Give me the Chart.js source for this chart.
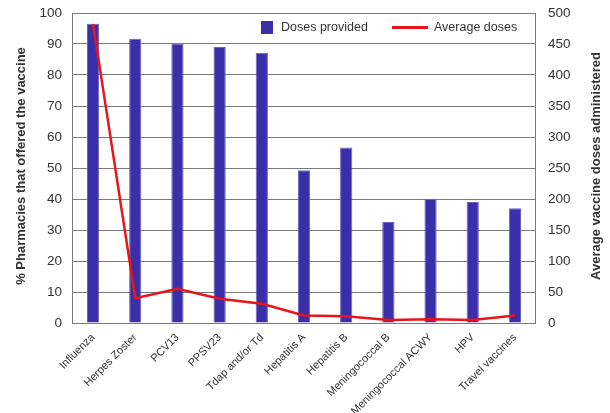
<!DOCTYPE html>
<html>
<head>
<meta charset="utf-8">
<script src="https://cdn.jsdelivr.net/npm/chart.js@4.4.1/dist/chart.umd.min.js"></script>
<style>
  html, body { margin: 0; padding: 0; background: #fff; }
  #wrap { width: 610px; height: 413px; position: relative; }
</style>
</head>
<body>
<div id="wrap"><canvas id="c" width="610" height="413"></canvas></div>
<script>
// Vaccines offered by pharmacies
const categories = [
  "Influenza", "Herpes Zoster", "PCV13", "PPSV23", "Tdap and/or Td",
  "Hepatitis A", "Hepatitis B", "Meningococcal B", "Meningococcal ACWY",
  "HPV", "Travel vaccines"
];
// % of pharmacies that offered each vaccine (left axis)
const pctOffered = [96.5, 91.7, 90.1, 89.0, 87.2, 49.3, 56.6, 32.6, 40.0, 39.0, 37.0];
// Average doses administered (right axis)
const avgDoses = [482, 40, 55, 39, 31, 12, 11, 5, 6, 5, 12];

const leftTicks = { min: 0, max: 100, step: 10 };
const rightTicks = { min: 0, max: 500, step: 50 };

const seriesLabels = ["Doses provided", "Average doses"];
const leftTitle = "% Pharmacies that offered the vaccine";
const rightTitle = "Average vaccine doses administered";

const FONT = "'Liberation Sans', Arial, Helvetica, sans-serif";
const BAR_COLOR = "#3a2fa8";
const LINE_COLOR = "#e8141c";
const TEXT = "#333333";
const GRID = "#7a7a7a";

// Frame, axis titles and the in-plot legend
const decor = {
  id: "decor",
  beforeDatasetsDraw(chart) {
    const { ctx, chartArea: a } = chart;
    ctx.save();
    ctx.strokeStyle = GRID;
    ctx.lineWidth = 1;
    ctx.strokeRect(Math.round(a.left) + 0.5, Math.round(a.top) + 0.5,
                   Math.round(a.right - a.left) - 1, Math.round(a.bottom - a.top));
    ctx.restore();
  },
  afterDraw(chart) {
    const { ctx, chartArea: a } = chart;
    ctx.save();
    ctx.fillStyle = TEXT;
    ctx.font = "bold 13px " + FONT;
    ctx.textAlign = "center";
    ctx.textBaseline = "middle";
    const cy = 166;
    ctx.save(); ctx.translate(21, cy); ctx.rotate(-Math.PI / 2);
    ctx.fillText(leftTitle, 0, 0); ctx.restore();
    ctx.save(); ctx.translate(596, cy); ctx.rotate(-Math.PI / 2);
    ctx.fillText(rightTitle, 0, 0); ctx.restore();

    // legend
    const ly = a.top + 14.5;
    ctx.font = "12.5px " + FONT;
    ctx.textAlign = "left";
    ctx.fillStyle = BAR_COLOR;
    ctx.fillRect(261, ly - 6.5, 12, 13);
    ctx.fillStyle = TEXT;
    ctx.fillText(seriesLabels[0], 281, ly);
    ctx.strokeStyle = LINE_COLOR;
    ctx.lineWidth = 3;
    ctx.beginPath(); ctx.moveTo(392, ly); ctx.lineTo(428, ly); ctx.stroke();
    ctx.fillText(seriesLabels[1], 434, ly);
    ctx.restore();
  }
};

function fixVertical(width) {
  return function (s) {
    s.width = width;
    s.paddingTop = 0;
    s.paddingBottom = 0;
  };
}

new Chart(document.getElementById("c"), {
  data: {
    labels: categories,
    datasets: [
      {
        type: "bar",
        label: seriesLabels[0],
        data: pctOffered,
        yAxisID: "y",
        backgroundColor: BAR_COLOR,
        borderColor: "#6a62c2",
        borderWidth: 1,
        categoryPercentage: 1,
        barPercentage: 0.29,
        order: 1
      },
      {
        type: "line",
        label: seriesLabels[1],
        data: avgDoses,
        yAxisID: "y1",
        borderColor: LINE_COLOR,
        borderWidth: 2.5,
        pointRadius: 0,
        tension: 0,
        fill: false,
        order: 0
      }
    ]
  },
  options: {
    responsive: false,
    animation: false,
    devicePixelRatio: 1,
    layout: { padding: { top: 13, right: 0, bottom: 0, left: 0 } },
    plugins: { legend: { display: false }, tooltip: { enabled: false } },
    scales: {
      x: {
        grid: { display: false },
        border: { display: false },
        ticks: {
          color: TEXT,
          font: { family: FONT, size: 11 },
          maxRotation: 45,
          minRotation: 45,
          autoSkip: false,
          padding: 0
        },
        afterFit(s) { s.height = 90; s.paddingLeft = 0; s.paddingRight = 0; }
      },
      y: {
        position: "left",
        min: leftTicks.min,
        max: leftTicks.max,
        ticks: {
          stepSize: leftTicks.step,
          color: TEXT,
          font: { family: FONT, size: 13.5 },
          padding: 10
        },
        grid: { color: GRID, drawTicks: false, lineWidth: 1 },
        border: { display: false },
        afterFit: fixVertical(72)
      },
      y1: {
        position: "right",
        min: rightTicks.min,
        max: rightTicks.max,
        ticks: {
          stepSize: rightTicks.step,
          color: TEXT,
          font: { family: FONT, size: 13.5 },
          padding: 12
        },
        grid: { display: false, drawTicks: false },
        border: { display: false },
        afterFit: fixVertical(74)
      }
    }
  },
  plugins: [decor]
});
</script>
</body>
</html>
